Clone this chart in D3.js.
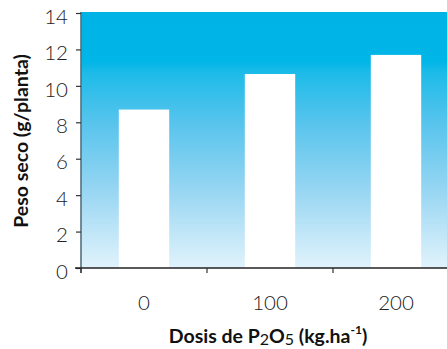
<!DOCTYPE html>
<html>
<head>
<meta charset="utf-8">
<script src="https://cdn.jsdelivr.net/npm/d3@7"></script>
<style>
  html, body { margin: 0; padding: 0; background: #fff; }
  svg { display: block; }
</style>
</head>
<body>
<svg id="chart" width="447" height="349"></svg>
<script>
// Dry weight per plant at each P2O5 dose
const doses = ["0", "100", "200"];
const pesoSeco = [8.7, 10.65, 11.7];
const yTicks = [0, 2, 4, 6, 8, 10, 12, 14];

const svg = d3.select("#chart");
const W = 447, H = 349;
const mLeft = 81, mTop = 13, mBottom = 268, mRight = 459;

const x = d3.scaleBand().domain(doses).range([mLeft, mRight]).padding(0);
const xBar = d3.scaleBand().domain(doses).range([mLeft, mRight])
  .paddingInner(0.6).paddingOuter(0.3);
const y = d3.scaleLinear().domain([0, 14]).range([mBottom, mTop]);

// background gradient of the plot area
const defs = svg.append("defs");
const grad = defs.append("linearGradient").attr("id", "bg")
  .attr("x1", 0).attr("y1", 0).attr("x2", 0).attr("y2", 1);
[[0, "#00b3e6"], [0.19, "#00b5e7"], [0.24, "#1ebbe9"], [0.45, "#5cc5ed"],
 [0.7, "#98d6f2"], [1, "#e1f3fc"]].forEach(([o, c]) =>
  grad.append("stop").attr("offset", o).attr("stop-color", c));

svg.append("rect")
  .attr("x", mLeft).attr("y", y(14) - 1)
  .attr("width", W - mLeft).attr("height", mBottom - y(14) + 1)
  .attr("fill", "url(#bg)");

// bars
svg.selectAll("rect.bar").data(doses).join("rect")
  .attr("class", "bar")
  .attr("x", d => xBar(d))
  .attr("width", xBar.bandwidth())
  .attr("y", (d, i) => y(pesoSeco[i]))
  .attr("height", (d, i) => y(0) - y(pesoSeco[i]))
  .attr("fill", "#ffffff");

const tickFont = "Lato, 'Open Sans', sans-serif";

// y axis
const yAxis = svg.append("g")
  .attr("transform", `translate(${mLeft},0)`)
  .call(d3.axisLeft(y).tickValues(yTicks).tickSize(5).tickSizeOuter(0).tickPadding(8));
yAxis.select(".domain").attr("stroke", "#56707c").attr("stroke-width", 1.6)
  .attr("d", `M0,${y(14) - 1}V${mBottom + 5}`);
yAxis.selectAll(".tick line").attr("stroke", "#333").attr("stroke-width", 1.2);
yAxis.selectAll(".tick text")
  .attr("fill", "#222")
  .attr("dy", "0.5em")
  .style("font-family", tickFont)
  .style("font-weight", 300)
  .style("font-size", "20.5px");

// x axis: labels centred on bands, tick marks at band edges
const xAxis = svg.append("g")
  .attr("transform", `translate(0,${mBottom})`)
  .call(d3.axisBottom(x).tickSize(0).tickSizeOuter(0).tickPadding(27));
xAxis.select(".domain").attr("stroke", "#222").attr("stroke-width", 1.6)
  .attr("d", `M${mLeft - 6},0H${W}`);
xAxis.selectAll(".tick text")
  .attr("fill", "#222")
  .style("font-family", tickFont)
  .style("font-weight", 300)
  .style("font-size", "20.5px");
xAxis.selectAll("line.edge").data(doses).join("line")
  .attr("class", "edge")
  .attr("x1", d => x(d)).attr("x2", d => x(d))
  .attr("y1", 0).attr("y2", 5)
  .attr("stroke", "#333").attr("stroke-width", 1.2);

// axis titles
const titleFont = "Lato, 'Open Sans', sans-serif";
svg.append("text")
  .attr("transform", `translate(28,141) rotate(-90)`)
  .attr("text-anchor", "middle")
  .style("font-family", titleFont).style("font-weight", 700).style("font-size", "19.5px")
  .attr("fill", "#111")
  .text("Peso seco (g/planta)");

const xt = svg.append("text")
  .attr("x", 268).attr("y", 343)
  .attr("text-anchor", "middle")
  .style("font-family", titleFont).style("font-weight", 700).style("font-size", "19.5px")
  .attr("fill", "#111");
xt.append("tspan").text("Dosis de P");
xt.append("tspan").attr("dy", 2).style("font-size", "16px").style("font-weight", 400).text("2");
xt.append("tspan").attr("dy", -2).text("O");
xt.append("tspan").attr("dy", 2).style("font-size", "16px").style("font-weight", 400).text("5");
xt.append("tspan").attr("dy", -2).text(" (kg.ha");
xt.append("tspan").attr("dy", -9).style("font-size", "12px").text("-1");
xt.append("tspan").attr("dy", 9).text(")");
</script>
</body>
</html>
